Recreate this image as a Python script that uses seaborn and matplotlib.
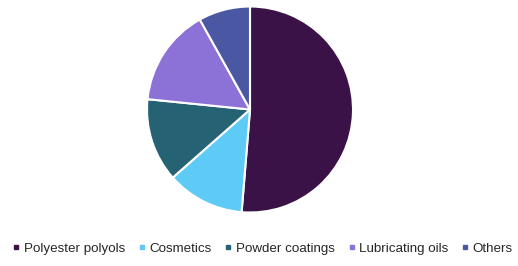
import matplotlib
matplotlib.use("Agg")
import matplotlib.pyplot as plt
from matplotlib.lines import Line2D
import seaborn as sns

categories = ["Polyester polyols", "Cosmetics", "Powder coatings", "Lubricating oils", "Others"]
shares = [51.3, 12.2, 13.1, 15.3, 8.1]
colors = ["#3A1248", "#5DCBF6", "#256274", "#8C72D6", "#4A57A3"]

sns.set_theme(style="white")
plt.rcParams['font.family'] = ['Liberation Sans', 'DejaVu Sans']

fig = plt.figure(figsize=(5.18, 2.66), dpi=100)
ax = fig.add_axes([147/518, 1 - 212.5/266, 206/518, 206/266])
ax.pie(shares, colors=colors, startangle=90, counterclock=False, radius=1,
       wedgeprops=dict(edgecolor="white", linewidth=1.5))
ax.set_xlim(-1.0, 1.0)
ax.set_ylim(-1.0, 1.0)
ax.set_aspect("equal")
ax.axis("off")

handles = [Line2D([0], [0], marker="s", linestyle="none", markersize=3.5,
                  markerfacecolor=c, markeredgecolor=c) for c in colors]
fig.legend(handles, categories, loc="center", bbox_to_anchor=(263/518, 1 - 248.5/266),
           ncol=5, frameon=False, fontsize=9.6, handlelength=0.45, handletextpad=0.32,
           columnspacing=1.05, borderpad=0)

fig.savefig("out.png", dpi=100)
